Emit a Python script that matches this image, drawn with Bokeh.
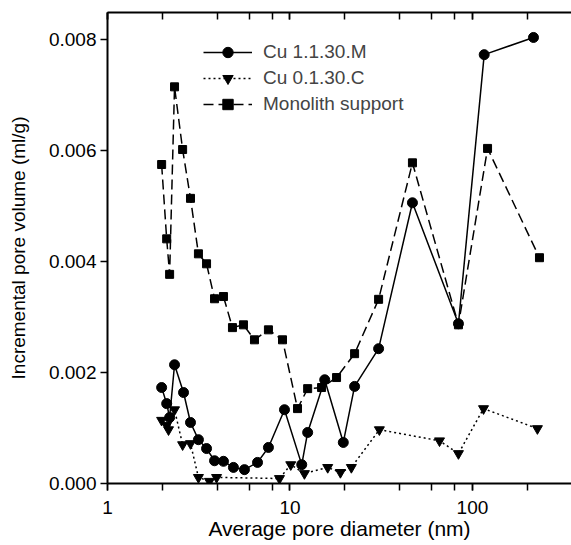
from bokeh.plotting import figure
from bokeh.models import (LogAxis, LogTicker, FixedTicker, NumeralTickFormatter,
                          Legend, LegendItem, Range1d)
from bokeh.embed import file_html
from bokeh.resources import INLINE

# ---- data ----
d_m = [1.98, 2.11, 2.19, 2.33, 2.61, 2.85, 3.15, 3.49, 3.86, 4.32, 4.90, 5.63, 6.64,
       7.62, 9.33, 11.6, 12.5, 15.5, 19.6, 22.6, 30.6, 46.9, 83.8, 116, 216]
v_m = [0.00173, 0.00144, 0.00119, 0.00214, 0.00164, 0.00110, 0.00079, 0.00063, 0.00041,
       0.00040, 0.00029, 0.00025, 0.00038, 0.00065, 0.00133, 0.00034, 0.00092, 0.00187,
       0.00074, 0.00175, 0.00243, 0.00506, 0.00288, 0.00773, 0.00804]

d_c = [1.98, 2.11, 2.16, 2.33, 2.58, 2.85, 3.15, 3.62, 3.96, 8.76, 10.1, 12.0, 16.1,
       18.9, 21.7, 30.9, 66.0, 83.8, 115, 227]
v_c = [0.00114, 0.00105, 0.00097, 0.00133, 0.00070, 0.00072, 0.00011, 0.00004, 0.00011,
       0.00009, 0.00034, 0.00018, 0.00029, 0.00020, 0.00029, 0.00097, 0.00077, 0.00054,
       0.00135, 0.00099]

d_s = [1.98, 2.11, 2.19, 2.33, 2.58, 2.85, 3.15, 3.49, 3.86, 4.32, 4.84, 5.56, 6.39,
       7.62, 9.10, 11.0, 12.5, 14.9, 18.0, 22.6, 30.6, 46.9, 83.8, 121, 233]
v_s = [0.00575, 0.00441, 0.00377, 0.00715, 0.00602, 0.00514, 0.00414, 0.00396, 0.00333,
       0.00337, 0.00281, 0.00286, 0.00259, 0.00277, 0.00259, 0.00135, 0.00171, 0.00173,
       0.00191, 0.00234, 0.00332, 0.00578, 0.00286, 0.00604, 0.00407]

labels = ["Cu 1.1.30.M", "Cu 0.1.30.C", "Monolith support"]
y_ticks = [0.000, 0.002, 0.004, 0.006, 0.008]
x_title = "Average pore diameter (nm)"
y_title = "Incremental pore volume (ml/g)"

FONT = "Liberation Sans"

p = figure(width=571, height=545, x_axis_type="log",
           x_range=Range1d(1, 349), y_range=Range1d(0, 0.00849),
           output_backend="svg", toolbar_location=None,
           min_border_left=107, min_border_right=0, min_border_top=12,
           min_border_bottom=62)
p.outline_line_color = None
p.grid.visible = False
p.background_fill_color = "white"
p.border_fill_color = "white"

# axes
xa = p.xaxis[0]
xa.ticker = LogTicker()
xa.formatter = NumeralTickFormatter(format="0")
ya = p.yaxis[0]
ya.ticker = FixedTicker(ticks=y_ticks)
ya.formatter = NumeralTickFormatter(format="0.000")
for ax in (xa, ya):
    ax.axis_line_width = 2
    ax.axis_line_color = "black"
    ax.major_tick_line_width = 1.5
    ax.minor_tick_line_width = 1.5
    ax.major_tick_line_color = "black"
    ax.minor_tick_line_color = "black"
    ax.major_tick_out = 7
    ax.major_tick_in = 0
    ax.major_label_text_font = FONT
    ax.major_label_text_font_size = "19px"
    ax.major_label_text_color = "black"
    ax.axis_label_text_font = FONT
    ax.axis_label_text_font_style = "normal"
    ax.axis_label_text_color = "black"
xa.axis_label_text_font_size = "21px"
ya.axis_label_text_font_size = "19px"
xa.minor_tick_out = 7
xa.minor_tick_in = 0
xa.major_label_standoff = 10
xa.axis_label_standoff = 0
ya.minor_tick_line_color = None
ya.major_label_standoff = 4
ya.axis_label_standoff = 17
xa.axis_label = x_title
ya.axis_label = y_title

top = LogAxis(ticker=LogTicker(), axis_line_width=2, major_tick_in=7, major_tick_out=0,
              minor_tick_in=7, minor_tick_out=0, major_tick_line_width=1.5,
              minor_tick_line_width=1.5, major_label_text_font_size="2px",
              major_label_text_alpha=0, major_label_standoff=0)
p.add_layout(top, "above")

# series
r1l = p.line(d_m, v_m, line_color="black", line_width=1.5)
r1s = p.scatter(d_m, v_m, marker="circle", size=10, fill_color="black", line_color="black")
r2l = p.line(d_c, v_c, line_color="black", line_width=1.5, line_dash="2 3")
r2s = p.scatter(d_c, v_c, marker="inverted_triangle", size=10, fill_color="black",
                line_color="black")
r3l = p.line(d_s, v_s, line_color="black", line_width=1.5, line_dash="10 5")
r3s = p.scatter(d_s, v_s, marker="square", size=8, fill_color="black", line_color="black")

legend = Legend(items=[LegendItem(label=labels[0], renderers=[r1l, r1s]),
                       LegendItem(label=labels[1], renderers=[r2l, r2s]),
                       LegendItem(label=labels[2], renderers=[r3l, r3s])],
                location=(96, 366), border_line_color=None, background_fill_alpha=0,
                padding=0, margin=0, spacing=0, glyph_width=49, glyph_height=26,
                label_height=20, label_standoff=11, label_text_font=FONT,
                label_text_font_size="19px")
p.add_layout(legend, "center")

open("out.html", "w").write(file_html(p, INLINE))
